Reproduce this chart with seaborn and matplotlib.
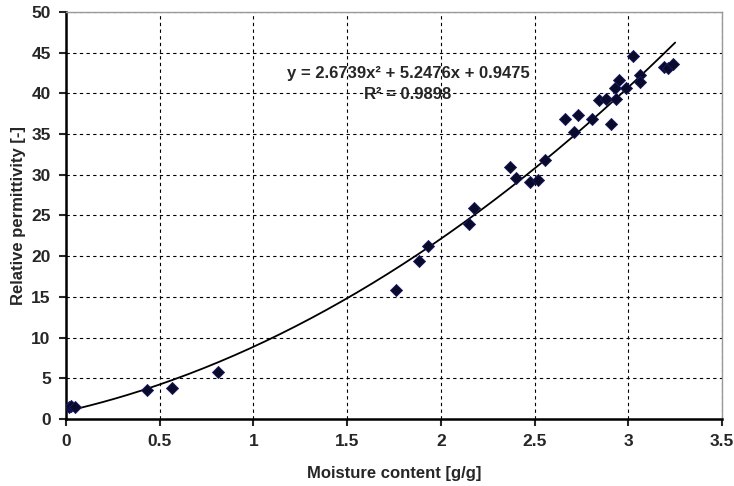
import matplotlib
matplotlib.use('Agg')
from matplotlib import pyplot as plt
import numpy as np
import pandas as pd
import seaborn as sns

sns.set_style('ticks')
plt.rcParams['font.family'] = ['Liberation Sans', 'DejaVu Sans']

# measured points
moisture = [0.016, 0.027, 0.048, 0.43, 0.567, 0.81,
            1.761, 1.884, 1.933, 2.149, 2.175,
            2.369, 2.40, 2.476, 2.52, 2.556,
            2.664, 2.712, 2.73, 2.807, 2.846, 2.88, 2.906, 2.933,
            2.93, 2.95, 2.987, 3.024, 3.065, 3.065,
            3.193, 3.214, 3.237]
permittivity = [1.5, 1.6, 1.5, 3.5, 3.85, 5.8,
                15.9, 19.4, 21.3, 24.0, 25.9,
                30.9, 29.6, 29.1, 29.4, 31.8,
                36.9, 35.3, 37.3, 36.9, 39.2, 39.3, 36.2, 39.35,
                40.7, 41.6, 40.7, 44.55, 42.2, 41.4,
                43.2, 43.1, 43.65]

# trendline coefficients (from the chart label)
coef = [2.6739, 5.2476, 0.9475]
r2 = 0.9898

df = pd.DataFrame({'x': moisture, 'y': permittivity})
xf = np.linspace(0, 3.25, 200)
fit = pd.DataFrame({'x': xf, 'y': np.polyval(coef, xf)})

fig = plt.figure(figsize=(7.34, 4.86), dpi=100)
ax = fig.add_axes([0.0899, 0.1379, 0.8938, 0.8374])

ax.grid(True, color='black', linestyle=(0, (3, 3)), linewidth=0.8)
ax.set_axisbelow(True)

sns.lineplot(data=fit, x='x', y='y', ax=ax, color='black', linewidth=1.3, zorder=3)
sns.scatterplot(data=df, x='x', y='y', ax=ax, marker='D', s=38,
                color='#0a0a2a', edgecolor='#1a1a6a', linewidth=0.6, zorder=4)

ax.set_xlim(0, 3.5)
ax.set_ylim(0, 50)
ax.set_xticks(np.arange(0, 3.51, 0.5))
ax.set_yticks(np.arange(0, 51, 5))
ax.set_xticklabels(['0', '0.5', '1', '1.5', '2', '2.5', '3', '3.5'])

for s in ['left', 'bottom']:
    ax.spines[s].set_color('black')
    ax.spines[s].set_linewidth(1.8)
for s in ['top', 'right']:
    ax.spines[s].set_color('#999999')
    ax.spines[s].set_linewidth(1.0)

ax.tick_params(axis='both', direction='out', length=5, width=1.5,
               labelsize=12.5, pad=6)
for lab in ax.get_xticklabels() + ax.get_yticklabels():
    lab.set_fontweight('bold')

ax.set_xlabel('Moisture content [g/g]', fontsize=12, fontweight='bold', labelpad=12)
ax.set_ylabel('Relative permittivity [-]', fontsize=12, fontweight='bold', labelpad=4)

ax.text(1.825, 42.5,
        'y = %.4fx² + %.4fx + %.4f' % tuple(coef),
        ha='center', va='center', fontsize=12, fontweight='bold')
ax.text(1.825, 39.9, 'R² = %.4f' % r2,
        ha='center', va='center', fontsize=12, fontweight='bold')

plt.savefig('out.png', dpi=100)
